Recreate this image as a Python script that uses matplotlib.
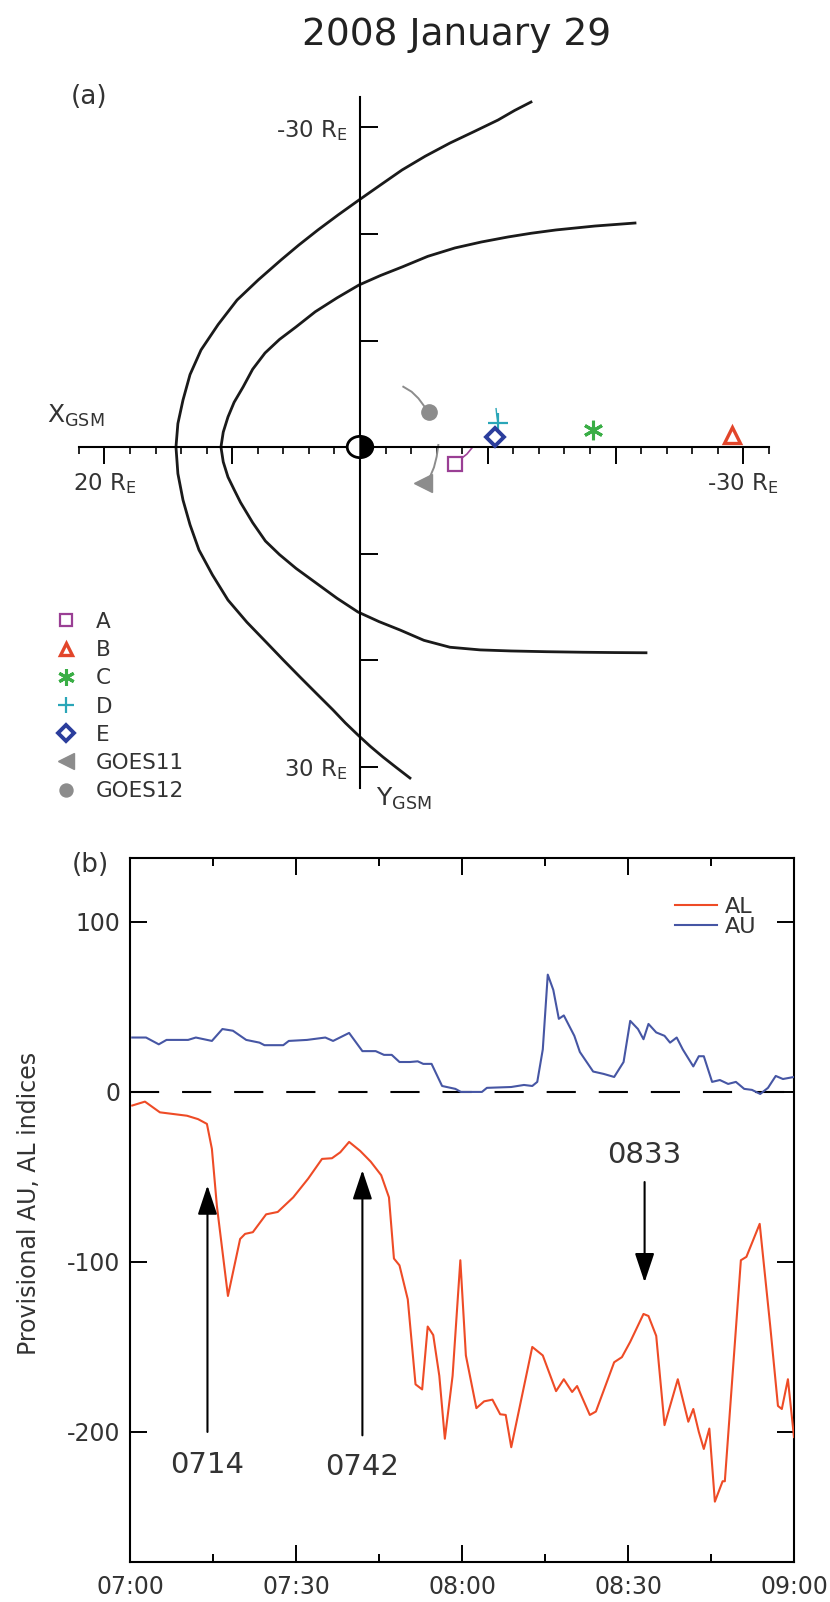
import numpy as np
import matplotlib.pyplot as plt
from matplotlib.lines import Line2D
from matplotlib.patches import Ellipse, Wedge

# ---------------------------------------------------------------------------
# Panel (a): GSM equatorial plane, values in R_E (X positive sunward / left)
# ---------------------------------------------------------------------------
bow_x = [-13.38, -12.10, -10.80, -8.90, -7.04, -5.10, -3.29, -1.60, 0.08, 1.70,
         3.29, 4.80, 6.18, 7.95, 9.62, 11.10, 12.44, 13.30, 13.85, 14.25, 14.40,
         14.25, 13.85, 13.30, 12.60, 11.55, 10.33, 8.85, 7.28, 6.00, 4.69, 3.40,
         2.11, 1.15, 0.16, -0.80, -1.80, -2.85, -3.91]
bow_y = [-32.39, -31.60, -30.70, -29.60, -28.54, -27.30, -26.01, -24.60, -23.19,
         -21.80, -20.38, -18.95, -17.56, -15.70, -13.80, -11.50, -9.11, -6.80,
         -4.41, -2.20, 0.0, 2.50, 4.98, 7.30, 9.67, 12.00, 14.37, 16.45, 18.40,
         20.00, 21.60, 23.15, 24.69, 25.90, 27.04, 28.10, 29.11, 30.10, 31.08]

mp_x = [-21.52, -18.40, -15.34, -13.40, -11.58, -9.50, -7.43, -5.30, -3.29,
        -1.60, 0.08, 1.80, 3.50, 5.01, 6.30, 7.43, 8.40, 9.15, 9.85, 10.33,
        10.70, 10.88, 10.70, 10.33, 9.85, 9.35, 8.40, 7.40, 6.30, 5.00, 3.40,
        1.80, 0.16, -1.50, -3.13, -5.00, -7.04, -9.40, -11.82, -14.60, -17.45,
        -19.90, -22.38]
mp_y = [-21.03, -20.75, -20.38, -20.07, -19.72, -19.25, -18.69, -17.90, -16.90,
        -16.10, -15.21, -14.00, -12.70, -11.27, -10.10, -8.83, -7.30, -5.63,
        -4.20, -2.82, -1.40, 0.0, 1.40, 2.82, 4.00, 5.20, 7.10, 8.83, 10.10,
        11.40, 12.80, 14.20, 15.49, 16.40, 17.18, 18.15, 18.80, 19.05, 19.15,
        19.22, 19.27, 19.30, 19.32]

sc_names = ["A", "B", "C", "D", "E", "GOES11", "GOES12"]
sc_x = [-7.43, -29.11, -18.23, -10.83, -10.56, -4.96, -5.43]
sc_y = [1.60, -1.13, -1.60, -2.22, -0.97, 3.41, -3.26]

# short orbit tracks leading into the marker positions
trk_a_x = [-7.98, -8.37, -8.76]
trk_a_y = [1.03, 0.66, 0.09]
trk_d_x = [-10.65, -10.70, -10.80]
trk_d_y = [-3.60, -3.00, -2.22]
trk_g11_x = [-6.13, -6.00, -5.79, -5.48, -5.22]
trk_g11_y = [-0.19, 0.91, 1.91, 2.79, 3.26]
trk_g12_x = [-3.39, -4.04, -4.57, -4.96, -5.22]
trk_g12_y = [-5.66, -5.19, -4.57, -3.94, -3.47]

# ---------------------------------------------------------------------------
# Panel (b): provisional AU / AL, minutes after 07:00 UT
# ---------------------------------------------------------------------------
al_t = [0.4, 2.7, 5.4, 10.3, 12.3, 13.9, 14.8, 15.7, 17.7, 19.9, 20.8, 22.2,
        24.6, 26.7, 29.5, 32.2, 34.7, 36.5, 38.0, 39.6, 41.6, 43.5, 45.4, 46.8,
        47.7, 48.7, 50.2, 51.6, 52.8, 53.8, 54.8, 55.9, 56.9, 58.3, 59.7, 60.7,
        62.6, 64.0, 65.5, 66.9, 67.9, 68.9, 70.7, 72.7, 74.6, 77.0, 78.4, 79.9,
        80.8, 83.1, 84.2, 87.5, 88.9, 90.4, 92.8, 93.7, 95.1, 96.6, 99.0, 100.9,
        101.8, 102.8, 103.7, 104.7, 105.7, 107.1, 107.5, 110.4, 111.4, 113.8,
        115.7, 117.1, 117.8, 118.9, 120.0]
al_v = [-8, -5.7, -12, -14, -16, -18.8, -33.5, -67, -120, -86.5, -83.5, -82.5,
        -72, -70.6, -62, -51, -39.4, -39, -35.5, -29.4, -34.7, -41, -49, -62,
        -98, -102, -122, -172, -175, -138, -143, -167, -204, -167, -99, -155,
        -186, -182, -181, -189.6, -190, -209, -181, -150, -155, -176, -169,
        -176.5, -173, -190, -188, -159, -156, -147, -130.6, -131.8, -143.5,
        -196, -169, -194, -186.5, -200, -210, -198, -241, -229, -229, -99, -97,
        -77.6, -137.6, -184.7, -186.5, -169, -203]

au_t = [0.4, 2.9, 5.2, 6.6, 10.5, 11.9, 14.8, 16.7, 18.6, 21.0, 23.4, 24.3,
        27.7, 28.7, 32.0, 35.3, 36.7, 39.6, 42.0, 44.4, 45.9, 47.3, 48.7, 50.6,
        52.0, 53.0, 54.5, 56.4, 58.8, 59.8, 63.6, 64.5, 68.9, 71.2, 72.7, 73.6,
        74.6, 75.5, 76.5, 77.5, 78.4, 80.3, 81.3, 83.7, 85.6, 87.5, 89.2, 90.4,
        91.8, 92.8, 93.7, 95.1, 96.6, 97.6, 98.8, 99.9, 101.8, 102.8, 103.7,
        105.2, 106.6, 108.1, 109.5, 111.0, 112.4, 113.9, 115.3, 116.7, 118.0,
        120.0]
au_v = [32, 32, 28, 30.6, 30.6, 32, 30, 37, 36, 30.6, 29, 27.5, 27.5, 30, 30.6,
        32, 30, 34.7, 24, 24, 21.8, 21.8, 17.6, 17.6, 18, 16.5, 16.5, 3.5, 1.8,
        0, 0, 2.4, 2.9, 4.1, 3.5, 5.9, 25, 69, 60, 43, 45, 33, 23.5, 12, 10.6,
        8.8, 17.6, 41.8, 37, 31, 40, 35, 33, 29, 32, 25, 15, 21, 21, 5.9, 7,
        4.7, 5.9, 1.8, 1.2, -1.2, 2.4, 9.4, 7.6, 8.8]

onset_t = [14, 42, 93]
onset_lbl = ["0714", "0742", "0833"]

tick_t = [0, 30, 60, 90, 120]
tick_lbl = ["07:00", "07:30", "08:00", "08:30", "09:00"]

W, H = 830, 1602
fig = plt.figure(figsize=(W / 100, H / 100), dpi=100)
TXT = "#333333"


def fx(px):
    return px / W


def fy(py):
    return 1 - py / H


# ---------------------------------------------------------------------------
# (a) orbit plot
# ---------------------------------------------------------------------------
ax = fig.add_axes([0, fy(830), 1, (830 - 90) / H])
ax.set_xlim(28.17, -36.78)
ax.set_ylim(35.96, -33.52)
ax.patch.set_alpha(0)
for s in ("top", "right"):
    ax.spines[s].set_visible(False)
ax.spines["left"].set_position(("data", 0))
ax.spines["bottom"].set_position(("data", 0))
ax.spines["left"].set_bounds(-32.9, 32.0)
ax.spines["bottom"].set_bounds(-32, 22)
for s in ("left", "bottom"):
    ax.spines[s].set_linewidth(1.5)

ax.set_xticks([20, 10, 0, -10, -20, -30])
ax.set_xticklabels(["20 R$_\\mathrm{E}$", "", "", "", "", "-30 R$_\\mathrm{E}$"])
ax.set_xticks([v for v in range(-32, 23, 2) if v % 10], minor=True)
ax.tick_params(axis="x", which="major", direction="out", length=12, width=1.4,
               labelsize=16.5, labelcolor=TXT, pad=5)
ax.tick_params(axis="x", which="minor", direction="out", length=5, width=1.2)
ax.set_yticks([-30, -20, -10, 0, 10, 20, 30])
ax.set_yticklabels(["-30 R$_\\mathrm{E}$", "", "", "", "", "", "30 R$_\\mathrm{E}$"])
ax.tick_params(axis="y", direction="in", length=13, width=1.4, labelsize=16.5,
               labelcolor=TXT, pad=9)

ax.plot(bow_x, bow_y, color="#1a1a1a", lw=2.0, solid_joinstyle="round")
ax.plot(mp_x, mp_y, color="#1a1a1a", lw=2.0, solid_joinstyle="round")

# Earth: open circle, night side filled
ax.add_patch(Ellipse((0, 0), 2, 2, fc="white", ec="black", lw=2, zorder=5))
ax.add_patch(Wedge((0, 0), 1, 90, 270, fc="black", ec="black", lw=1, zorder=6))

gray = "#8c8c8c"
ax.plot(trk_a_x, trk_a_y, color="#a0449a", lw=1.2)
ax.plot(trk_d_x, trk_d_y, color="#2aa6b8", lw=1.0)
ax.plot(trk_g11_x, trk_g11_y, color=gray, lw=1.4)
ax.plot(trk_g12_x, trk_g12_y, color=gray, lw=1.4)

styles = [
    dict(marker="s", ms=10, mfc="none", mec="#9a3f94", mew=1.6),
    dict(marker="^", ms=11, mfc="none", mec="#e2452a", mew=2.4),
    dict(marker=(6, 2, 0), ms=14, mfc="none", mec="#3aae46", mew=2.2),
    dict(marker="+", ms=14, mfc="none", mec="#2aa6b8", mew=1.6),
    dict(marker="D", ms=9, mfc="white", mec="#2b3d9c", mew=2.8),
    dict(marker="<", ms=13, mfc=gray, mec=gray, mew=1),
    dict(marker="o", ms=11, mfc=gray, mec=gray, mew=1),
]
handles = []
for name, x, y, st in zip(sc_names, sc_x, sc_y, styles):
    ax.plot([x], [y], ls="none", zorder=7, **st)
    handles.append(Line2D([], [], ls="none", label=name, **st))

leg = fig.legend(handles=handles, loc="upper left",
                 bbox_to_anchor=(fx(55), fy(612)), frameon=False,
                 fontsize=15.5, handlelength=1.0, handletextpad=0.9,
                 labelspacing=0.38, borderpad=0, borderaxespad=0,
                 markerscale=0.85)
for t in leg.get_texts():
    t.set_color(TXT)

fig.text(fx(47), fy(423), "X$_\\mathrm{GSM}$", fontsize=18, color=TXT,
         va="baseline", ha="left")
fig.text(fx(376), fy(786), "Y$_\\mathrm{GSM}$", fontsize=18, color=TXT,
         va="top", ha="left")
fig.text(fx(71), fy(84), "(a)", fontsize=19, color=TXT, va="top", ha="left")
fig.text(fx(457), fy(45), "2008 January 29", fontsize=27, color="#222222",
         va="baseline", ha="center")

# ---------------------------------------------------------------------------
# (b) AU / AL indices
# ---------------------------------------------------------------------------
bx = fig.add_axes([fx(130), fy(1562), (794 - 130) / W, (1562 - 858) / H])
bx.set_xlim(0, 120)
bx.set_ylim(-276.5, 137.6)
for s in bx.spines.values():
    s.set_linewidth(1.5)

bx.axhline(0, color="black", lw=1.5, dashes=(14, 11), zorder=1)
bx.plot(al_t, al_v, color="#ee4b26", lw=1.5, label="AL", zorder=3)
bx.plot(au_t, au_v, color="#4656a4", lw=1.5, label="AU", zorder=3)

bx.set_xticks(tick_t)
bx.set_xticklabels(tick_lbl)
bx.set_xticks([15, 45, 75, 105], minor=True)
bx.set_yticks([-200, -100, 0, 100])
bx.set_yticklabels(["-200", "-100", "0", "100"])
bx.tick_params(which="major", direction="in", length=12, width=1.4,
               top=True, right=True, labelsize=17, labelcolor=TXT)
bx.tick_params(axis="x", which="major", pad=9)
bx.tick_params(axis="y", which="major", pad=7)
bx.tick_params(which="minor", direction="in", length=6, width=1.4,
               top=True, right=True)
bx.set_ylabel("Provisional AU, AL indices", fontsize=17, color=TXT)
bx.yaxis.set_label_coords(-0.134, 0.509)

arrow_kw = dict(arrowstyle="-|>,head_length=1.8,head_width=0.6",
                mutation_scale=10, color="black", lw=1.5,
                shrinkA=0, shrinkB=0)
# 0714 and 0742: upward arrows from -200; 0833: downward arrow
bx.annotate("", xy=(onset_t[0], -55), xytext=(onset_t[0], -200), arrowprops=arrow_kw)
bx.annotate("", xy=(onset_t[1], -46), xytext=(onset_t[1], -202), arrowprops=arrow_kw)
bx.annotate("", xy=(onset_t[2], -112), xytext=(onset_t[2], -53), arrowprops=arrow_kw)
bx.text(onset_t[0], -219.5, onset_lbl[0], fontsize=21, color=TXT,
        ha="center", va="center")
bx.text(onset_t[1], -220.5, onset_lbl[1], fontsize=21, color=TXT,
        ha="center", va="center")
bx.text(onset_t[2], -37, onset_lbl[2], fontsize=21, color=TXT,
        ha="center", va="center")

lg = bx.legend(loc="upper right", bbox_to_anchor=(0.944, 0.945), frameon=False,
               fontsize=16, handlelength=1.9, handletextpad=0.36,
               labelspacing=0.0, borderpad=0, borderaxespad=0)
for t in lg.get_texts():
    t.set_color(TXT)

fig.text(fx(72), fy(852), "(b)", fontsize=19, color=TXT, va="top", ha="left")

fig.savefig("out.png", dpi=100)
